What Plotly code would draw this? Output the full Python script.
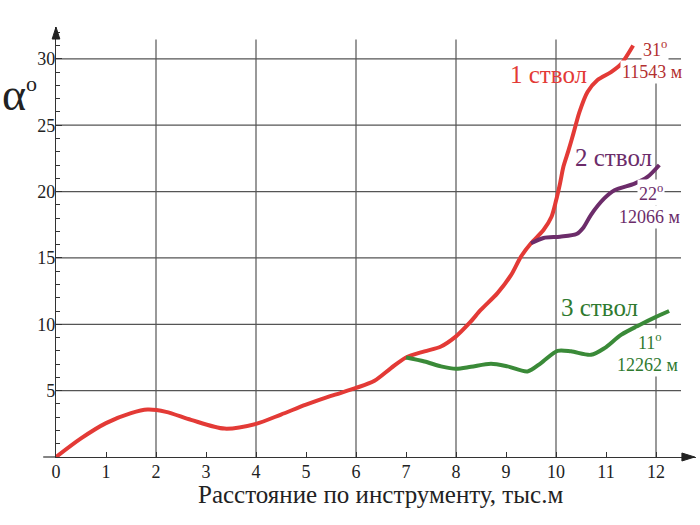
import plotly.graph_objects as go

# ---- data ----
red_x = [0, 0.5, 1, 1.5, 1.83, 2.2, 2.7, 3.37, 4, 4.5, 5, 5.5, 6, 6.37, 6.7, 7.0, 7.37, 7.7,
         8, 8.27, 8.5, 8.83, 9.1, 9.3, 9.5, 9.75, 9.91, 10.0, 10.08, 10.15, 10.25, 10.35,
         10.47, 10.63, 10.83, 11.1, 11.3, 11.543]
red_y = [0, 1.4, 2.55, 3.3, 3.57, 3.4, 2.8, 2.14, 2.5, 3.2, 3.94, 4.6, 5.2, 5.75, 6.7, 7.5,
         7.96, 8.33, 9.09, 10.1, 11.1, 12.35, 13.7, 15.1, 16.1, 17.1, 18.1, 19.3, 20.6,
         21.9, 23.1, 24.4, 26.0, 27.5, 28.4, 29.0, 29.6, 31.0]

purple_x = [9.5, 9.75, 10.08, 10.41, 10.55, 10.7, 10.97, 11.17, 11.57, 11.83, 12.066]
purple_y = [16.1, 16.5, 16.6, 16.8, 17.3, 18.25, 19.5, 20.1, 20.6, 21.1, 22.0]

green_x = [7.0, 7.37, 7.7, 8.0, 8.3, 8.7, 9.03, 9.43, 9.7, 10.03, 10.3, 10.7, 10.97, 11.3,
           11.7, 11.97, 12.262]
green_y = [7.5, 7.2, 6.83, 6.65, 6.8, 7.03, 6.83, 6.45, 7.08, 8.0, 7.96, 7.7, 8.2, 9.2,
           10.0, 10.5, 11.0]

x_ticks = list(range(0, 13))
y_ticks = [5, 10, 15, 20, 25, 30]
x_grid = [2, 4, 6, 8, 10, 12]

RED = "#e33a36"
PURPLE = "#6c2c6a"
GREEN = "#3a8a38"
FONT = "Liberation Serif"
AX = "#333"

fig = go.Figure()
for xs, ys, c in [(red_x, red_y, RED), (purple_x, purple_y, PURPLE), (green_x, green_y, GREEN)]:
    fig.add_trace(go.Scatter(x=xs, y=ys, mode="lines",
                             line=dict(color=c, width=4, shape="spline", smoothing=0.8),
                             showlegend=False, hoverinfo="skip"))

shapes = []
for gx in x_grid:
    shapes.append(dict(type="line", xref="x", yref="y", x0=gx, x1=gx, y0=0, y1=31.45,
                       line=dict(color="#555", width=1.2), layer="below"))
for gy in y_ticks:
    shapes.append(dict(type="line", xref="x", yref="y", x0=0, x1=12.5, y0=gy, y1=gy,
                       line=dict(color="#555", width=1.2), layer="below"))
# small extension of the x axis to the left of origin
shapes.append(dict(type="line", xref="paper", yref="paper", x0=-0.02, x1=0, y0=0, y1=0,
                   line=dict(color=AX, width=1.2)))
# arrowheads (paper coords)
shapes.append(dict(type="path", xref="paper", yref="paper",
                   path="M 0,1.0 L -0.006,0.972 L 0.006,0.972 Z",
                   fillcolor="#222", line=dict(color="#222", width=1)))
shapes.append(dict(type="path", xref="paper", yref="paper",
                   path="M 0.998,0 L 0.978,0.0093 L 0.978,-0.0093 Z",
                   fillcolor="#222", line=dict(color="#222", width=1)))

annotations = []

def lab(x, y, t, size, color, bg=True, ref="x"):
    d = dict(x=x, y=y, xref=ref, yref=("y" if ref == "x" else "paper"), text=t,
             showarrow=False, font=dict(family=FONT, size=size, color=color),
             xanchor="center", yanchor="middle")
    if bg:
        d["bgcolor"] = "white"
    annotations.append(d)

lab(9.84, 28.8, "1 ствол", 25, RED, bg=False)
lab(11.98, 30.8, "31<sup>o</sup>", 18, "#b33030")
lab(11.92, 29.03, "11543 м", 18, "#b33030")
lab(11.14, 22.55, "2 ствол", 25, PURPLE, bg=False)
lab(11.9, 19.9, "22<sup>o</sup>", 18, PURPLE)
lab(11.86, 18.1, "12066 м", 18, PURPLE)
lab(10.86, 11.24, "3 ствол", 25, "#2f7a2f", bg=False)
lab(11.88, 8.67, "11<sup>o</sup>", 18, "#2f7a2f")
lab(11.82, 6.94, "12262 м", 18, "#2f7a2f")

# axis titles (paper coords: px -> (px-56)/640, py -> (457-py)/430)
lab((19 - 56) / 640, (457 - 95) / 430,
    "α<sup><span style='font-size:22px'>o</span></sup>", 46, "#222", bg=False, ref="paper")
lab((380 - 56) / 640, (457 - 494) / 430, "Расстояние по инструменту, тыс.м", 25, "#222",
    bg=False, ref="paper")

fig.update_layout(
    width=700, height=525,
    margin=dict(l=56, r=4, t=27, b=68),
    plot_bgcolor="white", paper_bgcolor="white",
    font=dict(family=FONT, size=18, color="#222"),
    shapes=shapes, annotations=annotations,
    xaxis=dict(range=[0, 12.8], tickvals=x_ticks, ticktext=[str(v) for v in x_ticks],
               showgrid=False, zeroline=False, showline=True, linecolor=AX, linewidth=1.2,
               ticks="inside", ticklen=5, tickcolor=AX, ticklabelstandoff=-2,
               tickfont=dict(family=FONT, size=18, color="#222")),
    yaxis=dict(range=[0, 32.4], tickvals=y_ticks, showgrid=False, zeroline=False,
               showline=True, linecolor=AX, linewidth=1.2,
               ticks="inside", ticklen=6, tickcolor=AX, ticklabelstandoff=-4,
               minor=dict(dtick=1, tick0=0, ticks="inside", ticklen=4, tickcolor=AX,
                          showgrid=False),
               tickfont=dict(family=FONT, size=18, color="#222")),
)

fig.write_html("out.html", config={"displayModeBar": False},
               post_script="document.body.style.margin='0';")
